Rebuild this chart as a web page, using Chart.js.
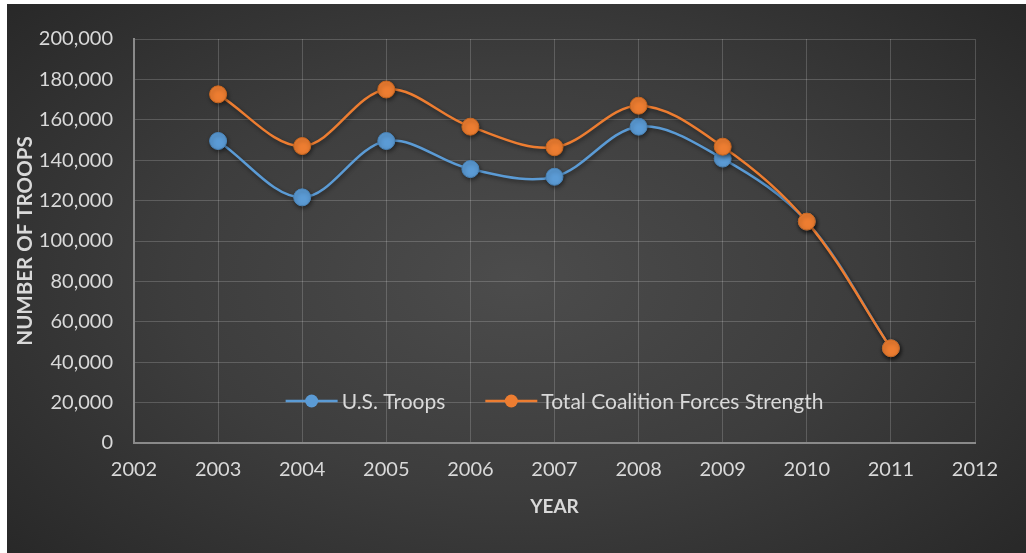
<!DOCTYPE html>
<html>
<head>
<meta charset="utf-8">
<script src="https://cdn.jsdelivr.net/npm/chart.js@4.4.0/dist/chart.umd.min.js"></script>
<style>
  html, body { margin: 0; padding: 0; background: #ffffff; width: 1026px; height: 553px; overflow: hidden; }
  #wrap {
    position: absolute; left: 7px; top: 4px; width: 1019px; height: 549px;
    background: radial-gradient(ellipse 75% 85% at 50% 50%, #4c4c4c 0%, #3d3d3d 45%, #2a2a2a 85%, #232323 100%);
  }
  canvas { display: block; }
</style>
</head>
<body>
<div id="wrap"><canvas id="c" width="1019" height="549"></canvas></div>
<script>
const years = [2003, 2004, 2005, 2006, 2007, 2008, 2009, 2010, 2011];
const usTroops = [149500, 121600, 149500, 135600, 131800, 156600, 140800, 109600, 46900];
const coalitionForces = [172600, 147000, 175000, 156600, 146400, 167000, 146700, 109600, 46900];
const seriesNames = ['U.S. Troops', 'Total Coalition Forces Strength'];
const xTitle = 'YEAR';
const yTitle = 'NUMBER OF TROOPS';

const BLUE = '#5B9BD5';
const ORANGE = '#ED7D31';
const FONT = 'Lato, "Open Sans", sans-serif';
const TEXT = '#d9d9d9';

function pts(vals) { return years.map((y, i) => ({ x: y, y: vals[i] })); }

const shadowPlugin = {
  id: 'shadow',
  beforeDatasetsDraw(chart) {
    const ctx = chart.ctx;
    ctx.save();
    ctx.shadowColor = 'rgba(0,0,0,0.45)';
    ctx.shadowBlur = 4;
    ctx.shadowOffsetX = 1;
    ctx.shadowOffsetY = 2;
  },
  afterDatasetsDraw(chart) { chart.ctx.restore(); }
};

const legendPlugin = {
  id: 'inlineLegend',
  afterDraw(chart) {
    const ctx = chart.ctx;
    const area = chart.chartArea;
    const y = area.bottom - 42;
    ctx.save();
    ctx.font = '21px ' + FONT;
    const items = chart.data.datasets.slice().sort((a, b) => a.legendIndex - b.legendIndex);
    const sample = 52, gapText = 4, gapItem = 40;
    let total = 0;
    items.forEach((d, i) => { total += sample + gapText + ctx.measureText(d.label).width + (i < items.length - 1 ? gapItem : 0); });
    let x = (area.left + area.right) / 2 - total / 2;
    items.forEach(d => {
      ctx.strokeStyle = d.borderColor;
      ctx.lineWidth = 2.5;
      ctx.beginPath(); ctx.moveTo(x, y); ctx.lineTo(x + sample, y); ctx.stroke();
      ctx.fillStyle = d.backgroundColor;
      ctx.beginPath(); ctx.arc(x + sample / 2, y, 6.5, 0, Math.PI * 2); ctx.fill();
      ctx.fillStyle = TEXT;
      ctx.textBaseline = 'middle';
      ctx.textAlign = 'left';
      ctx.fillText(d.label, x + sample + gapText, y + 1);
      x += sample + gapText + ctx.measureText(d.label).width + gapItem;
    });
    ctx.restore();
  }
};

new Chart(document.getElementById('c'), {
  type: 'line',
  data: {
    datasets: [
      {
        label: seriesNames[0], legendIndex: 0, order: 2,
        data: pts(usTroops), borderColor: BLUE, backgroundColor: BLUE,
        pointBackgroundColor: BLUE, pointBorderColor: '#4a84b8', pointBorderWidth: 1,
        borderWidth: 2.5, pointRadius: 8.5, tension: 0.35
      },
      {
        label: seriesNames[1], legendIndex: 1, order: 1,
        data: pts(coalitionForces), borderColor: ORANGE, backgroundColor: ORANGE,
        pointBackgroundColor: ORANGE, pointBorderColor: '#c9661f', pointBorderWidth: 1,
        borderWidth: 2.5, pointRadius: 8.5, tension: 0.35
      }
    ]
  },
  options: {
    responsive: false,
    animation: false,
    layout: { padding: { left: 6, top: 35, right: 51, bottom: 35 } },
    plugins: { legend: { display: false }, tooltip: { enabled: false } },
    scales: {
      x: {
        type: 'linear', min: 2002, max: 2012,
        afterFit(s) { s.height = 75; },
        ticks: { stepSize: 1, color: TEXT, font: { family: FONT, size: 20 }, padding: 15,
                 callback: v => String(v) },
        grid: { color: 'rgba(255,255,255,0.18)', lineWidth: 1, drawTicks: false },
        border: { color: '#8a8a8a', width: 2 },
        title: { display: true, text: xTitle, color: TEXT, font: { family: FONT, size: 19, weight: 'bold' }, padding: { top: 0, bottom: 0 } }
      },
      y: {
        min: 0, max: 200000,
        afterFit(s) { s.width = 121; },
        ticks: { stepSize: 20000, color: TEXT, font: { family: FONT, size: 20 }, padding: 21,
                 callback: v => v.toLocaleString('en-US') },
        grid: { color: 'rgba(255,255,255,0.18)', lineWidth: 1, drawTicks: false },
        border: { color: '#8a8a8a', width: 2 },
        title: { display: true, text: yTitle, color: TEXT, font: { family: FONT, size: 20.5, weight: 'bold' }, padding: { top: 0, bottom: 0 } }
      }
    }
  },
  plugins: [shadowPlugin, legendPlugin]
});
</script>
</body>
</html>
